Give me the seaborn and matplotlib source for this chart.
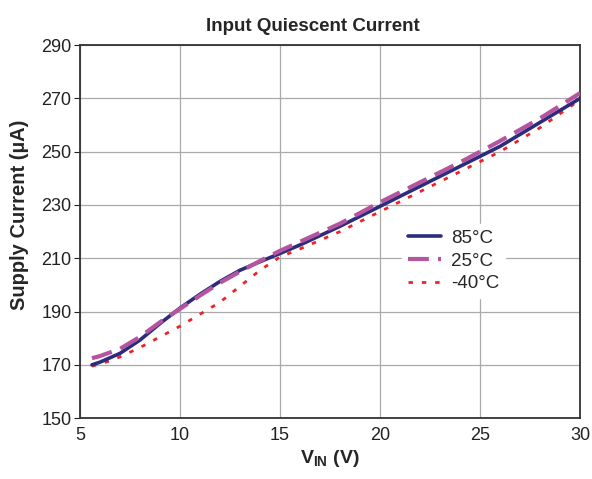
import pandas as pd
import matplotlib.pyplot as plt
import seaborn as sns

# values
vin_85 = [5.6, 6, 7, 8, 9, 10, 11, 12, 13, 14, 15, 16, 18, 20, 22, 24, 26, 28, 30]
cur_85 = [170, 171, 174.3, 179.3, 185.5, 191.3, 196.5, 201.3, 205.5, 208.7,
          211.8, 215, 222, 229.5, 237, 244.5, 252, 261, 270]

vin_25 = [5.6, 6, 7, 8, 9, 10, 11, 12, 13, 14, 15, 16, 18, 20, 22, 24, 26, 28, 30]
cur_25 = [172.5, 173.3, 176, 180.5, 186, 191, 196, 200.8, 205, 209, 212.8,
          216.2, 223, 231, 238.5, 246, 254, 262.5, 272]

vin_m40 = [5.6, 6.5, 7, 8, 9, 10, 11, 12, 13, 14, 15, 16, 18, 20, 22, 24, 26, 28, 30]
cur_m40 = [169.5, 171.5, 173, 176.5, 180.5, 184.5, 189, 193.5, 199.5, 205.5,
           210.5, 213.5, 220, 227.5, 235, 242.5, 250, 259, 269.5]

x_ticks = [5, 10, 15, 20, 25, 30]
y_ticks = [150, 170, 190, 210, 230, 250, 270, 290]

sns.set_style("white")
plt.rcParams["font.family"] = ["Liberation Sans", "DejaVu Sans"]
plt.rcParams["mathtext.fontset"] = "custom"
plt.rcParams["mathtext.rm"] = "Liberation Sans"
plt.rcParams["mathtext.bf"] = "Liberation Sans:bold"

fig = plt.figure(figsize=(5.92, 4.79), dpi=100)
ax = fig.add_axes([0.135, 0.127, 0.845, 0.779])

sns.lineplot(x=vin_85, y=cur_85, ax=ax, color="#2B2C7C", linewidth=2.6,
             label="85°C", zorder=3)
sns.lineplot(x=vin_25, y=cur_25, ax=ax, color="#B5549F", linewidth=3.0,
             linestyle=(0, (5, 2.2)), label="25°C", zorder=4)
sns.lineplot(x=vin_m40, y=cur_m40, ax=ax, color="#EE2229", linewidth=2.0,
             linestyle=(0, (1.6, 3.2)), label="-40°C", zorder=2)

ax.set_xlim(5, 30)
ax.set_ylim(150, 290)
ax.set_xticks(x_ticks)
ax.set_yticks(y_ticks)
ax.tick_params(axis="both", labelsize=13, colors="#222222", length=4,
               direction="out", left=True, bottom=False, pad=2)
ax.grid(True, color="#AAAAAA", linewidth=0.9)
for s in ax.spines.values():
    s.set_color("#333333")
    s.set_linewidth(1.3)

ax.set_title("Input Quiescent Current", fontsize=13.5, fontweight="bold",
             pad=10, x=0.466)
ax.set_xlabel(r"$\mathbf{V_{IN}}$ (V)", fontsize=14, fontweight="bold", labelpad=3)
ax.set_ylabel("Supply Current (µA)", fontsize=14.5, fontweight="bold")
ax.yaxis.set_label_coords(-0.102, 0.544)

leg = ax.legend(loc="upper left", bbox_to_anchor=(0.625, 0.545), frameon=True,
                fontsize=13.5, handlelength=1.8, labelspacing=0.3,
                borderpad=0.3, handletextpad=0.5)
leg.get_frame().set_edgecolor("white")
leg.get_frame().set_facecolor("white")
leg.get_frame().set_alpha(1.0)

fig.savefig("out.png", dpi=100)
